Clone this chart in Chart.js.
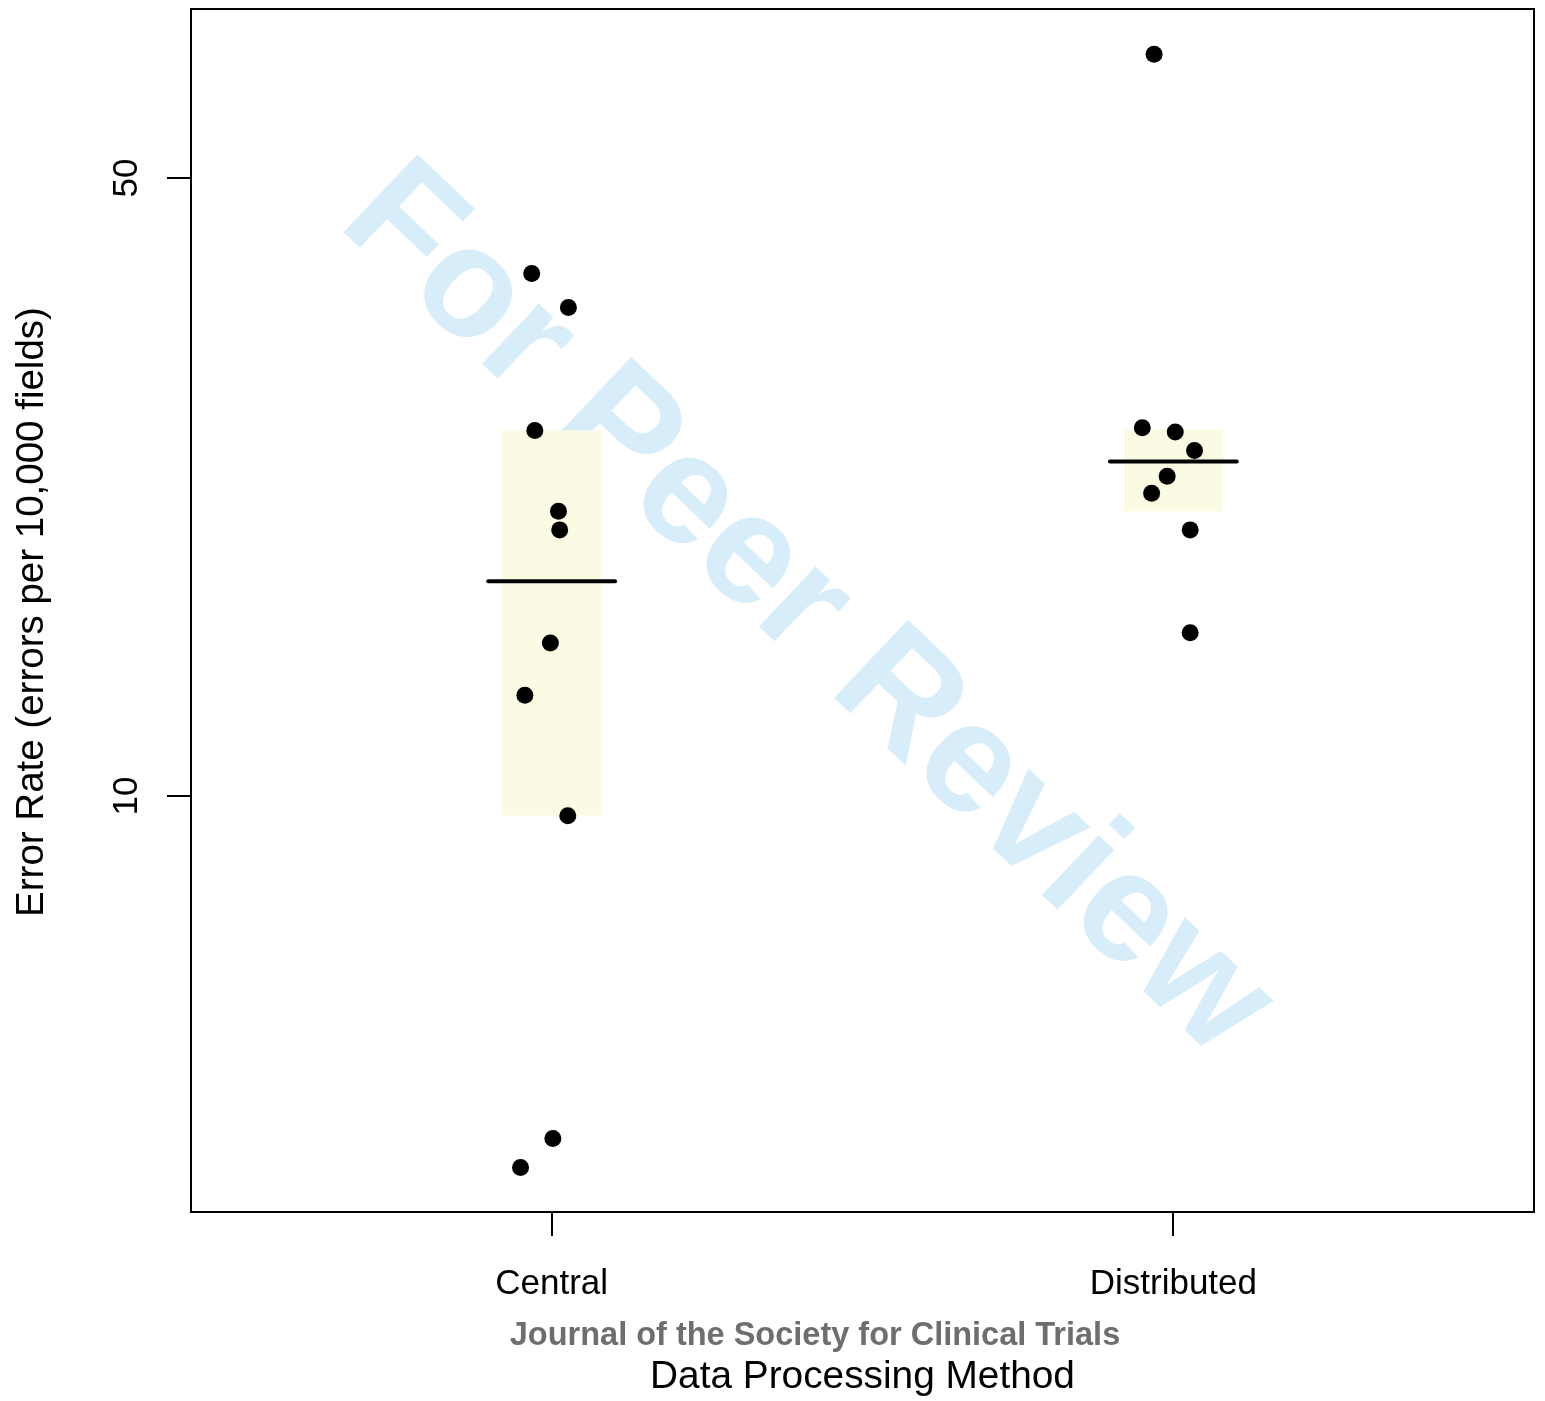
<!DOCTYPE html>
<html>
<head>
<meta charset="utf-8">
<script src="https://cdn.jsdelivr.net/npm/chart.js@4/dist/chart.umd.min.js"></script>
<style>
  html, body { margin: 0; padding: 0; background: #fff; }
  #wrap { width: 1545px; height: 1401px; }
</style>
</head>
<body>
<div id="wrap"><canvas id="errChart" width="1545" height="1401"></canvas></div>
<script>
// categories and observed error rates (errors per 10,000 fields)
const categories = ['Central', 'Distributed'];
const centralRates = [39.0, 35.7, 25.9, 21.0, 20.0, 14.9, 13.0, 9.5, 4.1, 3.8];
const centralJitter = [-0.032, 0.027, -0.027, 0.011, 0.013, -0.002, -0.043, 0.026, 0.002, -0.050];
const distributedRates = [69.0, 26.1, 25.8, 24.6, 23.0, 22.0, 20.0, 15.3];
const distributedJitter = [-0.031, -0.050, 0.003, 0.034, -0.010, -0.035, 0.027, 0.027];
const medians = [17.5, 23.9];
const boxLow = [9.5, 21.0];
const boxHigh = [25.9, 26.0];
const yTicks = [10, 50];
const yRange = [3.385, 77.65];

const FONT = '"Liberation Sans", Arial, Helvetica, sans-serif';
const BOX_HALF = 0.08;
const MED_HALF = 0.102;

function pts(rates, jitter, pos) {
  return rates.map((r, i) => ({ x: pos + jitter[i], y: r }));
}

const datasets = [
  { type: 'scatter', data: pts(centralRates, centralJitter, 1), order: 0 },
  { type: 'scatter', data: pts(distributedRates, distributedJitter, 2), order: 0 }
];
datasets.forEach(d => Object.assign(d, { backgroundColor: '#000', borderWidth: 0, pointRadius: 8.5, pointHoverRadius: 8.5 }));

categories.forEach((c, i) => {
  const pos = i + 1;
  datasets.push({ type: 'line', order: 1, data: [{ x: pos - MED_HALF, y: medians[i] }, { x: pos + MED_HALF, y: medians[i] }],
    borderColor: '#000', borderWidth: 4, borderCapStyle: 'round', pointRadius: 0, fill: false });
});
// boxes: bottom edge then top edge filled back to it
categories.forEach((c, i) => {
  const pos = i + 1;
  datasets.push({ type: 'line', order: 2, data: [{ x: pos - BOX_HALF, y: boxLow[i] }, { x: pos + BOX_HALF, y: boxLow[i] }],
    borderWidth: 0, borderColor: 'rgba(0,0,0,0)', pointRadius: 0, fill: false });
  datasets.push({ type: 'line', order: 2, data: [{ x: pos - BOX_HALF, y: boxHigh[i] }, { x: pos + BOX_HALF, y: boxHigh[i] }],
    borderWidth: 0, borderColor: 'rgba(0,0,0,0)', pointRadius: 0, fill: '-1', backgroundColor: '#FBFBE4' });
});

const decor = {
  id: 'decor',
  beforeDatasetsDraw(chart) {
    const ctx = chart.ctx;
    ctx.save();
    ctx.fillStyle = '#D7EEFA';
    ctx.font = 'bold 156px ' + FONT;
    ctx.textAlign = 'left';
    ctx.textBaseline = 'alphabetic';
    ctx.translate(336, 225);
    ctx.rotate(43.5 * Math.PI / 180);
    ctx.fillText('For Peer Review', 0, 0);
    ctx.restore();
  },
  afterDraw(chart) {
    const ctx = chart.ctx, a = chart.chartArea, ys = chart.scales.y;
    ctx.save();
    ctx.strokeStyle = '#000';
    ctx.lineWidth = 2;
    ctx.strokeRect(a.left, a.top, a.right - a.left, a.bottom - a.top);

    ctx.fillStyle = '#000';
    ctx.textAlign = 'center';
    ctx.textBaseline = 'alphabetic';
    ctx.font = '35px ' + FONT;
    yTicks.forEach(v => {
      ctx.save();
      ctx.translate(137, ys.getPixelForValue(v));
      ctx.rotate(-Math.PI / 2);
      ctx.fillText(String(v), 0, 0);
      ctx.restore();
    });

    ctx.font = '38.5px ' + FONT;
    ctx.save();
    ctx.translate(43, 612);
    ctx.rotate(-Math.PI / 2);
    ctx.fillText('Error Rate (errors per 10,000 fields)', 0, 0);
    ctx.restore();

    ctx.font = '38.8px ' + FONT;
    ctx.fillText('Data Processing Method', (a.left + a.right) / 2, 1388);

    ctx.fillStyle = '#6E6E6E';
    ctx.font = 'bold 32.5px ' + FONT;
    ctx.fillText('Journal of the Society for Clinical Trials', 815, 1345);
    ctx.restore();
  }
};

new Chart(document.getElementById('errChart'), {
  type: 'scatter',
  data: { datasets },
  plugins: [decor],
  options: {
    responsive: false,
    devicePixelRatio: 1,
    animation: false,
    events: [],
    layout: { padding: { left: 0, top: 9, right: 11, bottom: 0 } },
    plugins: { legend: { display: false }, tooltip: { enabled: false } },
    scales: {
      x: {
        type: 'linear', min: 0.42, max: 2.58,
        afterBuildTicks: s => { s.ticks = categories.map((c, i) => ({ value: i + 1 })); },
        afterFit: s => { s.height = 189; },
        ticks: { autoSkip: false, maxRotation: 0, padding: 27, color: '#000', font: { family: FONT, size: 35 },
          callback: v => categories[v - 1] },
        grid: { drawOnChartArea: false, drawTicks: true, tickLength: 24, lineWidth: 2, color: '#000' },
        border: { display: false }
      },
      y: {
        type: 'logarithmic', min: yRange[0], max: yRange[1],
        afterBuildTicks: s => { s.ticks = yTicks.map(v => ({ value: v })); },
        afterFit: s => { s.width = 191; },
        ticks: { display: false },
        grid: { drawOnChartArea: false, drawTicks: true, tickLength: 24, lineWidth: 2, color: '#000' },
        border: { display: false }
      }
    }
  }
});
</script>
</body>
</html>
